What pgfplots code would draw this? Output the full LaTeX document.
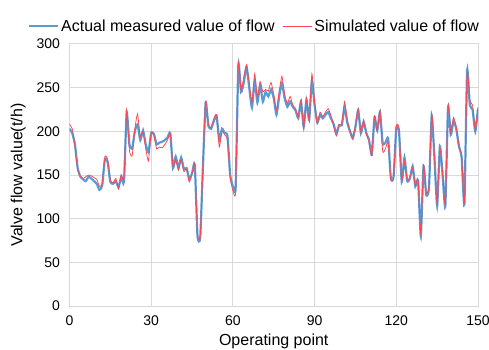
\documentclass[border=0pt]{standalone}
\usepackage{pgfplots}
\usepackage{pgfplotstable}
\pgfplotsset{compat=1.18}
\usepackage{fontspec}
\setmainfont{Liberation Sans}
\definecolor{exblue}{RGB}{91,155,213}
\definecolor{exred}{RGB}{255,70,80}
\definecolor{gridgray}{RGB}{217,217,217}
\pgfplotstableread{
i blue red
0 203 208
1 198 203
2 185 183
3 158 156
4 148 149
5 145 146
6 143 148
7 148 150
8 146 149
9 143 147
10 140 145
11 133 137
12 138 140
13 168 171
14 165 168
15 142 144
16 140 141
17 143 146
18 136 134
19 148 150
20 142 146
21 222 225
22 185 178
23 180 172
24 200 203
25 208 220
26 190 193
27 201 200
28 185 180
29 176 166
30 198 199
31 197 195
32 185 180
33 187 182
34 188 181
35 190 185
36 193 190
37 198 198
38 158 160
39 171 168
40 158 156
41 170 168
42 157 154
43 158 157
44 145 142
45 152 152
46 162 162
47 80 82
48 78 79
49 160 162
50 233 235
51 206 208
52 203 204
53 212 214
54 218 219
55 190 182
56 203 200
57 198 196
58 195 190
59 150 148
60 137 132
61 135 131
62 276 278
63 245 246
64 256 262
65 274 276
66 250 255
67 227 232
68 258 266
69 233 238
70 253 257
71 234 245
72 245 248
73 240 246
74 248 256
75 238 242
76 219 224
77 240 246
78 255 263
79 238 242
80 228 232
81 234 240
82 228 230
83 224 226
84 215 216
85 234 236
86 205 204
87 236 238
88 213 212
89 258 266
90 230 234
91 210 209
92 219 222
93 215 217
94 219 222
95 222 226
96 215 218
97 208 206
98 197 195
99 207 208
100 207 208
101 228 234
102 210 213
103 200 201
104 192 192
105 205 207
106 224 226
107 198 199
108 211 212
109 198 197
110 190 188
111 173 172
112 216 218
113 201 200
114 222 224
115 186 177
116 187 180
117 192 188
118 146 145
119 148 147
120 204 206
121 200 203
122 142 144
123 170 166
124 143 144
125 146 147
126 160 158
127 137 138
128 144 144
129 80 82
130 160 162
131 127 129
132 135 137
133 218 220
134 170 172
135 115 117
136 183 181
137 150 152
138 114 116
139 228 230
140 196 198
141 212 216
142 203 205
143 183 184
144 170 170
145 116 118
146 270 268
147 230 235
148 225 230
149 200 201
150 226 228
}\flowdata
\begin{document}
\begin{tikzpicture}
\path[use as bounding box] (-69.5pt,-44pt) rectangle (419.5pt,306pt);
\begin{axis}[
  scale only axis,
  width=408.5pt, height=262pt,
  xmin=0, xmax=150, ymin=0, ymax=300,
  xtick={0,30,60,90,120,150},
  ytick={0,50,100,150,200,250,300},
  grid=major,
  major grid style={gridgray, line width=1pt},
  axis line style={gridgray, line width=1pt},
  major tick length=0pt,
  tick label style={font=\fontsize{14}{16}\selectfont},
  /pgf/number format/assume math mode=true,
  xticklabel style={yshift=-6pt},
  yticklabel style={xshift=-6pt},
  xlabel={Operating point},
  ylabel={Valve flow value(t/h)},
  label style={font=\fontsize{16}{18}\selectfont},
  xlabel style={yshift=-2pt},
  ylabel style={yshift=4pt},
  legend columns=2,
  legend style={draw=none, fill=none, at={(-0.102,1.035)}, anchor=south west,
    font=\fontsize{16}{18}\selectfont,
    /tikz/every even column/.append style={column sep=6pt},
    inner sep=0pt},
  legend image code/.code={\draw[#1] (0pt,0pt) -- (29pt,0pt);},
  clip=true,
]
\addplot[exblue, line width=2.2pt, smooth, tension=0.3] table[x=i, y=blue] {\flowdata};
\addlegendentry{Actual measured value of flow}
\addplot[exred, line width=0.75pt, smooth, tension=0.3] table[x=i, y=red] {\flowdata};
\addlegendentry{Simulated value of flow}
\end{axis}
\end{tikzpicture}
\end{document}
